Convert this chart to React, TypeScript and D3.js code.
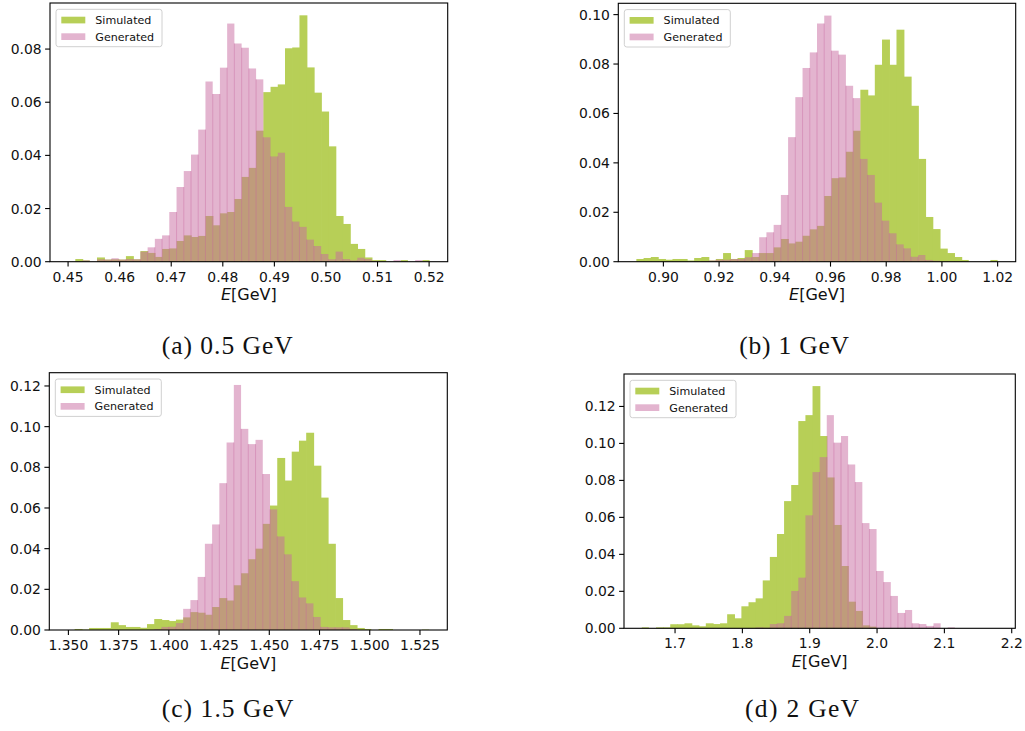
import React from "react";
import * as d3 from "d3";

// Normalised histogram heights (50 shared bins per panel), simulated vs generated energy.
const SIM_A = [0, 0.001, 0.0005, 0, 0.0016, 0.0008, 0.0009, 0.0008, 0.0021, 0.0009,
  0.004, 0.0033, 0.0018, 0.0048, 0.005, 0.0078, 0.0099, 0.0093, 0.0097, 0.0172,
  0.0137, 0.0182, 0.0187, 0.0236, 0.0319, 0.0353, 0.0493, 0.0638, 0.0658, 0.0667,
  0.0803, 0.0806, 0.0927, 0.0731, 0.0636, 0.0565, 0.0434, 0.0172, 0.0142, 0.0067,
  0.0048, 0.0016, 0.0006, 0.0006, 0, 0, 0.0006, 0, 0, 0.0006];
const GEN_A = [0, 0, 0.0005, 0, 0.0009, 0.0008, 0.0013, 0.0008, 0.001, 0.0009,
  0.0038, 0.0054, 0.0086, 0.0099, 0.0187, 0.0281, 0.0341, 0.0403, 0.0497, 0.0678,
  0.0631, 0.073, 0.0896, 0.0821, 0.0805, 0.0727, 0.0686, 0.0468, 0.0396, 0.041,
  0.0206, 0.0151, 0.0131, 0.0083, 0.0059, 0.0029, 0.0009, 0.0038, 0.001, 0.0005,
  0.0015, 0.001, 0.0003, 0, 0, 0.0006, 0, 0, 0.0006, 0];
const RANGE_A = [0.45, 0.5201];
const XTICKS_A = [0.45, 0.46, 0.47, 0.48, 0.49, 0.5, 0.51, 0.52];
const YTICKS_A = [0, 0.02, 0.04, 0.06, 0.08];

const SIM_B = [0.0011, 0.0015, 0.0019, 0.0011, 0.0008, 0.0011, 0.0011, 0.0005, 0.0015, 0.0019,
  0.0005, 0.0011, 0.0035, 0.0011, 0.0015, 0.0047, 0.0019, 0.0035, 0.0035, 0.0058,
  0.0092, 0.0074, 0.0081, 0.0105, 0.0131, 0.0145, 0.0266, 0.0338, 0.0341, 0.0445,
  0.053, 0.0696, 0.0673, 0.0797, 0.0899, 0.0797, 0.0939, 0.0749, 0.0631, 0.0416,
  0.0181, 0.0132, 0.0053, 0.0035, 0.0019, 0.0007, 0, 0, 0, 0.0007];
const GEN_B = [0, 0, 0, 0, 0, 0, 0, 0, 0, 0.0003,
  0.0005, 0.0008, 0.0008, 0.0011, 0.0011, 0.0018, 0.0035, 0.0099, 0.0119, 0.0149,
  0.027, 0.0504, 0.0666, 0.0784, 0.0847, 0.0964, 0.0996, 0.0854, 0.0838, 0.0712,
  0.0662, 0.0416, 0.0351, 0.0239, 0.0166, 0.0115, 0.007, 0.0054, 0.002, 0.0027,
  0.0007, 0.0004, 0, 0, 0, 0, 0, 0, 0, 0];
const RANGE_B = [0.8903, 1.02];
const XTICKS_B = [0.9, 0.92, 0.94, 0.96, 0.98, 1.0, 1.02];
const YTICKS_B = [0, 0.02, 0.04, 0.06, 0.08, 0.1];

const SIM_C = [0, 0.0005, 0.0002, 0.001, 0.001, 0.001, 0.0038, 0.0024, 0.0015, 0.0015,
  0.0011, 0.0029, 0.0054, 0.0049, 0.0044, 0.0051, 0.0062, 0.0088, 0.0085, 0.0075,
  0.0113, 0.0157, 0.0145, 0.022, 0.0279, 0.0348, 0.04, 0.0522, 0.0612, 0.0846,
  0.0735, 0.0877, 0.0931, 0.097, 0.0808, 0.0651, 0.0424, 0.0157, 0.0049, 0.0024,
  0.001, 0.0005, 0, 0.0005, 0.0005, 0, 0, 0, 0, 0.0002];
const GEN_C = [0, 0, 0, 0, 0, 0, 0, 0, 0, 0,
  0, 0, 0.0005, 0.0015, 0.0016, 0.0034, 0.0104, 0.0147, 0.0261, 0.0424,
  0.0519, 0.0722, 0.0922, 0.1205, 0.0989, 0.0914, 0.0935, 0.0767, 0.0593, 0.046,
  0.0372, 0.024, 0.016, 0.0131, 0.0064, 0.0015, 0.0013, 0.0013, 0.0013, 0.0005,
  0, 0, 0, 0, 0, 0, 0, 0, 0, 0];
const RANGE_C = [1.3495, 1.5296];
const XTICKS_C = [1.35, 1.375, 1.4, 1.425, 1.45, 1.475, 1.5, 1.525];
const YTICKS_C = [0, 0.02, 0.04, 0.06, 0.08, 0.1, 0.12];

const SIM_D = [0.0005, 0, 0.0005, 0.0005, 0.0022, 0.0022, 0.0027, 0.0016, 0.0011, 0.0027,
  0.0023, 0.0027, 0.0076, 0.0054, 0.0119, 0.0141, 0.0162, 0.0259, 0.0386, 0.051,
  0.0688, 0.0775, 0.1121, 0.1153, 0.131, 0.104, 0.0816, 0.0559, 0.0337, 0.0144,
  0.0094, 0.0016, 0.0009, 0, 0, 0, 0, 0, 0, 0,
  0, 0, 0, 0, 0, 0, 0, 0, 0, 0];
const GEN_D = [0, 0, 0, 0, 0, 0, 0, 0, 0, 0,
  0, 0, 0, 0, 0, 0, 0.0005, 0.0003, 0.0023, 0.0027,
  0.0067, 0.0202, 0.0274, 0.0611, 0.0845, 0.0926, 0.1153, 0.1004, 0.104, 0.0886,
  0.0791, 0.0569, 0.0537, 0.031, 0.025, 0.0175, 0.0083, 0.0099, 0.0027, 0.0023,
  0.0013, 0.0027, 0, 0.0005, 0, 0, 0, 0, 0, 0];
const RANGE_D = [1.6506, 2.1789];
const XTICKS_D = [1.7, 1.8, 1.9, 2.0, 2.1, 2.2];
const YTICKS_D = [0, 0.02, 0.04, 0.06, 0.08, 0.1, 0.12];

const CAPTIONS = ["(a) 0.5 GeV", "(b) 1 GeV", "(c) 1.5 GeV", "(d) 2 GeV"];
const LEGEND_LABELS = ["Simulated", "Generated"];
const X_LABEL_UNIT = "[GeV]";

const GREEN = "#b7cf57";
const PINK = "#c7699f";
const N_BINS = 50;

type Box = { left: number; right: number; top: number; bottom: number };
type PanelSpec = {
  sim: number[];
  gen: number[];
  range: number[];
  xTicks: number[];
  xFmt: string;
  yTicks: number[];
  caption: string;
  box: Box;
  cap: { x0: number; x1: number; y: number };
};

const PANELS: PanelSpec[] = [
  { sim: SIM_A, gen: GEN_A, range: RANGE_A, xTicks: XTICKS_A, xFmt: ".2f", yTicks: YTICKS_A, caption: CAPTIONS[0],
    box: { left: 50, right: 447.7, top: 3, bottom: 261.7 }, cap: { x0: 161.7, x1: 292.7, y: 354 } },
  { sim: SIM_B, gen: GEN_B, range: RANGE_B, xTicks: XTICKS_B, xFmt: ".2f", yTicks: YTICKS_B, caption: CAPTIONS[1],
    box: { left: 618.3, right: 1015.7, top: 3.3, bottom: 261.7 }, cap: { x0: 739.3, x1: 849, y: 353.5 } },
  { sim: SIM_C, gen: GEN_C, range: RANGE_C, xTicks: XTICKS_C, xFmt: ".3f", yTicks: YTICKS_C, caption: CAPTIONS[2],
    box: { left: 49.3, right: 447.3, top: 372.7, bottom: 630 }, cap: { x0: 161.7, x1: 293.3, y: 716.5 } },
  { sim: SIM_D, gen: GEN_D, range: RANGE_D, xTicks: XTICKS_D, xFmt: ".1f", yTicks: YTICKS_D, caption: CAPTIONS[3],
    box: { left: 624, right: 1015.3, top: 374, bottom: 628.3 }, cap: { x0: 745, x1: 859, y: 716.5 } },
];

const SANS = "'DejaVu Sans', sans-serif";
const SERIF = "'Liberation Serif', 'DejaVu Serif', serif";

function Panel({ p }: { p: PanelSpec }) {
  const [lo, hi] = p.range;
  const span = hi - lo;
  const x = d3.scaleLinear().domain([lo - 0.05 * span, hi + 0.05 * span]).range([p.box.left, p.box.right]);
  const yMax = Math.max(d3.max(p.sim) ?? 0, d3.max(p.gen) ?? 0) * 1.05;
  const y = d3.scaleLinear().domain([0, yMax]).range([p.box.bottom, p.box.top]);
  const edges = d3.range(N_BINS + 1).map((i) => lo + (i * span) / N_BINS);
  const fx = d3.format(p.xFmt);
  const fy = d3.format(".2f");

  // opaque bars get a hair of overlap so no background shows between neighbours
  const bars = (vals: number[], fill: string, opacity: number, overlap: number) =>
    vals.map((v, i) => {
      if (v <= 0) return null;
      const nextFilled = i + 1 < vals.length && vals[i + 1] > 0;
      return (
        <rect key={i} x={x(edges[i])} y={y(v)}
          width={x(edges[i + 1]) - x(edges[i]) + (nextFilled ? overlap : 0)}
          height={y(0) - y(v)} fill={fill} fillOpacity={opacity} />
      );
    });

  // seams where neighbouring translucent bars overlap by a pixel
  const seams = p.gen.slice(1).map((v, j) => {
    const i = j + 1;
    const h = Math.min(v, p.gen[i - 1]);
    if (h <= 0) return null;
    const xx = x(edges[i]);
    return <line key={i} x1={xx} x2={xx} y1={y(0)} y2={y(h)} stroke={PINK} strokeOpacity={0.45} strokeWidth={1} />;
  });

  const lg = { x: p.box.left + 6, y: p.box.top + 6.3 };
  const cx = (p.box.left + p.box.right) / 2;

  return (
    <g>
      {bars(p.sim, GREEN, 1, 0.7)}
      {bars(p.gen, PINK, 0.5, 0)}
      {seams}
      <rect x={p.box.left} y={p.box.top} width={p.box.right - p.box.left} height={p.box.bottom - p.box.top}
        fill="none" stroke="#000" strokeWidth={1.1} />
      {p.xTicks.map((t) => (
        <g key={"x" + t}>
          <line x1={x(t)} x2={x(t)} y1={p.box.bottom} y2={p.box.bottom + 4.9} stroke="#000" strokeWidth={1.1} />
          <text x={x(t)} y={p.box.bottom + 20} textAnchor="middle" fontFamily={SANS} fontSize={13.9} fill="#111">
            {fx(t)}
          </text>
        </g>
      ))}
      {p.yTicks.map((t) => (
        <g key={"y" + t}>
          <line x1={p.box.left - 4.9} x2={p.box.left} y1={y(t)} y2={y(t)} stroke="#000" strokeWidth={1.1} />
          <text x={p.box.left - 8.4} y={y(t)} dy="0.36em" textAnchor="end" fontFamily={SANS} fontSize={13.9} fill="#111">
            {fy(t)}
          </text>
        </g>
      ))}
      <text x={cx} y={p.box.bottom + 38.5} textAnchor="middle" fontFamily={SANS} fontSize={16} fill="#111">
        <tspan fontStyle="italic">E</tspan>
        {X_LABEL_UNIT}
      </text>
      <g>
        <rect x={lg.x} y={lg.y} width={106} height={37.4} rx={2.5} fill="#fff" fillOpacity={0.8}
          stroke="#d0d0d0" strokeWidth={1} />
        <rect x={lg.x + 5.3} y={lg.y + 7.4} width={24} height={6.7} fill={GREEN} />
        <rect x={lg.x + 5.3} y={lg.y + 24} width={24} height={6.7} fill={PINK} fillOpacity={0.5} />
        <text x={lg.x + 39.3} y={lg.y + 10.75} dy="0.36em" fontFamily={SANS} fontSize={11.1} fill="#111">
          {LEGEND_LABELS[0]}
        </text>
        <text x={lg.x + 39.3} y={lg.y + 27.35} dy="0.36em" fontFamily={SANS} fontSize={11.1} fill="#111">
          {LEGEND_LABELS[1]}
        </text>
      </g>
      <text x={p.cap.x0} y={p.cap.y} fontFamily={SERIF} fontSize={25.5} fill="#111"
        textLength={p.cap.x1 - p.cap.x0} lengthAdjust="spacing">
        {p.caption}
      </text>
    </g>
  );
}

export default function App() {
  return (
    <svg width={1025} height={731} viewBox="0 0 1025 731"
      style={{ position: "absolute", left: 0, top: 0, background: "#fff" }}>
      <rect width={1025} height={731} fill="#fff" />
      {PANELS.map((p, i) => (
        <Panel key={i} p={p} />
      ))}
    </svg>
  );
}
